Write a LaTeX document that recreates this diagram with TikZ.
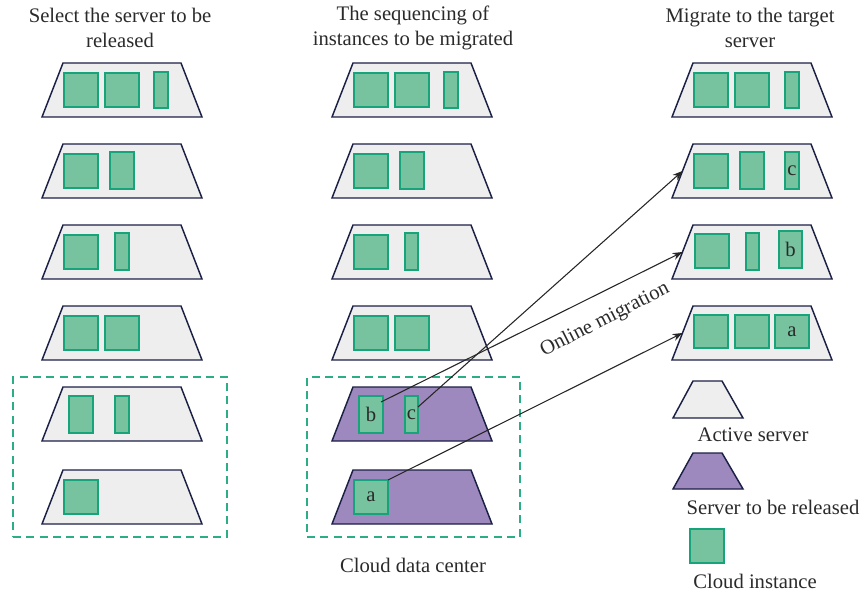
\documentclass[tikz,border=0pt]{standalone}
\usepackage{fontspec}
\setmainfont{Liberation Serif}
\usetikzlibrary{arrows.meta,calc}
\definecolor{srvfill}{HTML}{EEEEEE}
\definecolor{srvline}{HTML}{1B2045}
\definecolor{relfill}{HTML}{9D89BE}
\definecolor{instfill}{HTML}{77C29F}
\definecolor{instline}{HTML}{17A47A}
\definecolor{dashcol}{HTML}{2BAE88}
\definecolor{txt}{HTML}{2A2A2A}
\newcommand\lblfont{\fontsize{15.5}{18.75}\selectfont}
\newcommand\inst[6]{\node[inst,minimum width=#4*0.75pt,minimum height=#5*0.75pt] (#1) at (#2,#3) {#6};}
% server: name, left x of bottom edge, top y, fill colour
\newcommand\srv[4]{%
  \draw[server, fill=#4] (#2+21,#3) -- (#2+139,#3) -- (#2+160,#3+54) -- (#2,#3+54) -- cycle;
  \coordinate (#1) at (#2+10.5,#3+27);}
\begin{document}
\begin{tikzpicture}[x=0.75pt,y=-0.75pt,
  server/.style={draw=srvline, line width=1.1pt, line join=miter},
  inst/.style={draw=instline, fill=instfill, line width=1.1pt, inner sep=0pt,
    outer sep=0pt, anchor=north west, font=\lblfont, text=txt},
  dashbox/.style={draw=dashcol, line width=1.1pt, dash pattern=on 6pt off 4pt,
    inner sep=0pt, outer sep=0pt, anchor=north west},
  lbl/.style={font=\lblfont, text=txt, align=center, inner sep=0pt},
  arr/.style={draw=black!85, line width=0.8pt, -{Stealth[length=7.5pt,width=5.5pt]}}]
\path[use as bounding box] (0,0) rectangle (864,595);

% titles
\node[lbl] (t1) at (120,28) {Select the server to be\\released};
\node[lbl] (t2) at (413,28) {The sequencing of\\instances to be migrated};
\node[lbl] (t3) at (750,28) {Migrate to the target\\server};

% dashed groups
\node[dashbox, minimum width=214*0.75pt, minimum height=160*0.75pt] (g1) at (13,377) {};
\node[dashbox, minimum width=213*0.75pt, minimum height=160*0.75pt] (g2) at (307,377) {};

% left column servers
\srv{L1}{42}{63}{srvfill}
\srv{L2}{42}{144}{srvfill}
\srv{L3}{42}{225}{srvfill}
\srv{L4}{42}{306}{srvfill}
\srv{L5}{42}{387}{srvfill}
\srv{L6}{42}{470}{srvfill}
% middle column
\srv{M1}{332}{63}{srvfill}
\srv{M2}{332}{144}{srvfill}
\srv{M3}{332}{225}{srvfill}
\srv{M4}{332}{306}{srvfill}
\srv{M5}{332}{387}{relfill}
\srv{M6}{332}{470}{relfill}
% right column
\srv{R1}{672}{63}{srvfill}
\srv{R2}{672}{144}{srvfill}
\srv{R3}{672}{225}{srvfill}
\srv{R4}{672}{306}{srvfill}

% instances left
\inst{l11}{64}{73}{34}{34}{}
\inst{l12}{105}{73}{34}{34}{}
\inst{l13}{154}{72}{14}{36}{}
\inst{l21}{64}{154}{34}{34}{}
\inst{l22}{110}{152}{24}{37}{}
\inst{l31}{64}{235}{34}{34}{}
\inst{l32}{115}{233}{14}{37}{}
\inst{l41}{64}{316}{34}{34}{}
\inst{l42}{105}{316}{34}{34}{}
\inst{l51}{69}{396}{24}{37}{}
\inst{l52}{115}{396}{14}{37}{}
\inst{l61}{64}{480}{34}{34}{}
% instances middle
\inst{m11}{354}{73}{34}{34}{}
\inst{m12}{395}{73}{34}{34}{}
\inst{m13}{444}{72}{14}{36}{}
\inst{m21}{354}{154}{34}{34}{}
\inst{m22}{400}{152}{24}{37}{}
\inst{m31}{354}{235}{34}{34}{}
\inst{m32}{405}{233}{13}{37}{}
\inst{m41}{354}{316}{34}{34}{}
\inst{m42}{395}{316}{34}{34}{}
\inst{b}{359}{396}{24}{37}{b}
\inst{c}{405}{396}{13}{37}{c}
\inst{a}{354}{480}{34}{34}{a}
% instances right
\inst{r11}{694}{73}{34}{34}{}
\inst{r12}{735}{73}{34}{34}{}
\inst{r13}{785}{72}{14}{36}{}
\inst{r21}{694}{154}{34}{34}{}
\inst{r22}{740}{152}{24}{37}{}
\inst{rc}{785}{152}{14}{37}{c}
\inst{r31}{695}{234}{34}{34}{}
\inst{r32}{746}{233}{13}{37}{}
\inst{rb}{779}{231}{23}{37}{b}
\inst{r41}{694}{315}{34}{33}{}
\inst{r42}{735}{315}{34}{33}{}
\inst{ra}{775}{315}{34}{33}{a}

% migration arrows
\draw[arr] ($(b.north east)+(-2,6)$) -- (R3);
\draw[arr] ($(c.north east)+(0,11)$) -- (R2);
\draw[arr] (a.north east) -- (R4);
\node[lbl, rotate=27] (om) at (605,320) {Online migration};

\node[lbl] (cdc) at (413,565) {Cloud data center};

% legend
\draw[server, fill=srvfill] (693,381) -- (722,381) -- (743,418) -- (673,418) -- cycle;
\node[lbl] (lt1) at (753,435) {Active server};
\draw[server, fill=relfill] (693,453) -- (722,453) -- (743,489) -- (673,489) -- cycle;
\node[lbl] (lt2) at (773,507) {Server to be released};
\inst{lg3}{690}{529}{34}{34}{}
\node[lbl] (lt3) at (755,581) {Cloud instance};
\end{tikzpicture}
\end{document}
